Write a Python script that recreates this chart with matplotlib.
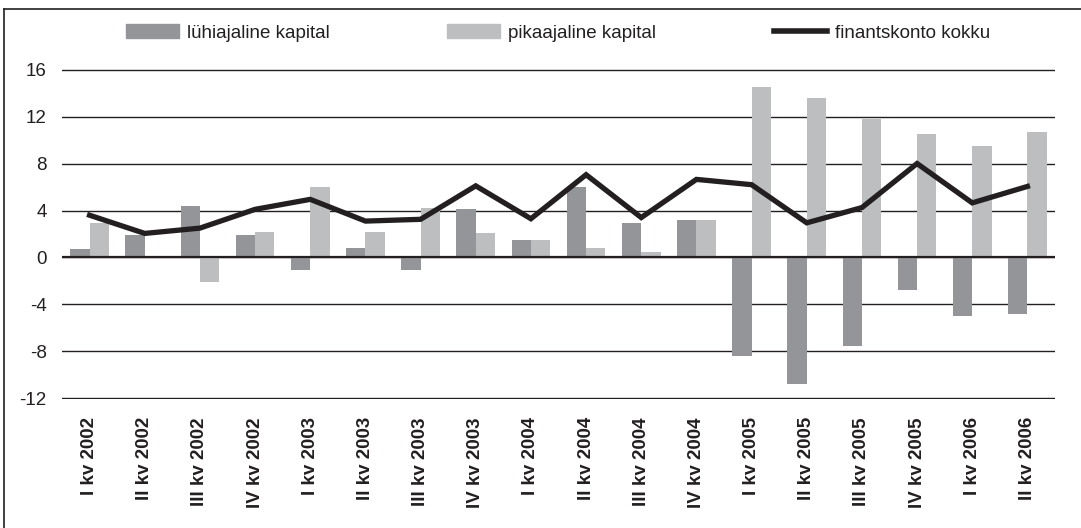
import numpy as np
import matplotlib.pyplot as plt
from matplotlib.lines import Line2D

plt.rcParams["font.family"] = ["Liberation Sans", "DejaVu Sans"]

quarters = [
    "I kv 2002", "II kv 2002", "III kv 2002", "IV kv 2002",
    "I kv 2003", "II kv 2003", "III kv 2003", "IV kv 2003",
    "I kv 2004", "II kv 2004", "III kv 2004", "IV kv 2004",
    "I kv 2005", "II kv 2005", "III kv 2005", "IV kv 2005",
    "I kv 2006", "II kv 2006",
]
short_term = [0.7, 1.9, 4.4, 1.9, -1.1, 0.85, -1.1, 4.1, 1.5, 6.0, 2.9, 3.2,
              -8.4, -10.8, -7.55, -2.8, -5.0, -4.8]
long_term = [2.9, 0.0, -2.1, 2.2, 6.0, 2.2, 4.25, 2.05, 1.5, 0.85, 0.5, 3.2,
             14.5, 13.6, 11.75, 10.55, 9.5, 10.7]
total = [3.6, 2.05, 2.5, 4.1, 4.95, 3.1, 3.25, 6.1, 3.3, 7.05, 3.4, 6.65,
         6.2, 2.95, 4.25, 8.0, 4.65, 6.05]
y_ticks = [-12, -8, -4, 0, 4, 8, 12, 16]

dark = "#939598"
light = "#bcbec0"
ink = "#231f20"

W, H = 1081, 528
fig = plt.figure(figsize=(W / 100, H / 100), dpi=100)
ax = fig.add_axes([62 / W, (H - 399) / H, (1055 - 62) / W, (399 - 69) / H])

x = np.arange(len(quarters))
bw = 0.35
ax.bar(x - bw / 2, short_term, bw, color=dark, zorder=2)
ax.bar(x + bw / 2, long_term, bw, color=light, zorder=2)
ax.plot(x, total, color=ink, lw=3.8, solid_joinstyle="miter", zorder=4)

ax.set_xlim(-0.5, len(quarters) - 0.5)
ax.set_ylim(-12.05, 16.05)
ax.set_yticks(y_ticks)
ax.set_yticklabels([str(t) for t in y_ticks], fontsize=13.5, color=ink)
ax.set_xticks(x)
ax.set_xticklabels(quarters, rotation=90, fontsize=13.5, fontweight="bold",
                   color=ink)
ax.tick_params(axis="both", length=0)
ax.tick_params(axis="y", pad=11)
ax.tick_params(axis="x", pad=13)
ax.grid(axis="y", color=ink, lw=1.0, zorder=1)
ax.axhline(0, color=ink, lw=1.6, zorder=3)
for s in ax.spines.values():
    s.set_visible(False)

# legend
handles = [
    plt.Rectangle((0, 0), 1, 1, color=dark),
    plt.Rectangle((0, 0), 1, 1, color=light),
    Line2D([], [], color=ink, lw=4),
]
labels = ["lühiajaline kapital", "pikaajaline kapital", "finantskonto kokku"]
leg = fig.legend(handles, labels, loc="center left",
                 bbox_to_anchor=(126 / W, 1 - 33 / H),
                 ncol=3, frameon=False, fontsize=13.5, handlelength=2.8,
                 handleheight=0.7, handletextpad=0.43, columnspacing=6.3,
                 borderpad=0, borderaxespad=0)
for t in leg.get_texts():
    t.set_color(ink)

# outer frame (only top and left edges are visible)
fig.add_artist(Line2D([4 / W, 1], [1 - 9 / H, 1 - 9 / H], color=ink, lw=1.2,
                      transform=fig.transFigure))
fig.add_artist(Line2D([4 / W, 4 / W], [0, 1 - 9 / H], color=ink, lw=1.2,
                      transform=fig.transFigure))

fig.savefig("out.png", dpi=100)
